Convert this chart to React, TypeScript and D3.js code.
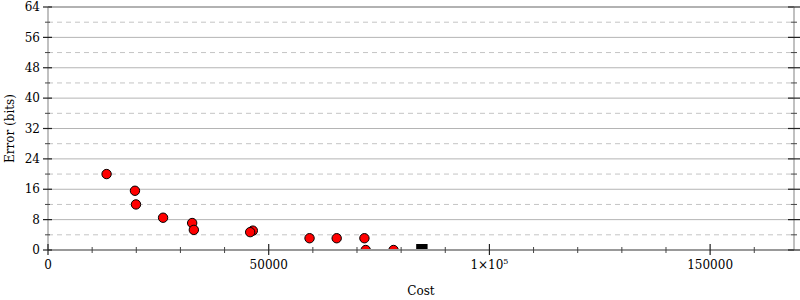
import React from "react";
import * as d3 from "d3";

const costs = [13270, 19700, 19930, 26070, 32660, 33040, 46400, 45800, 59250, 65400, 71680, 71980, 78280];
const errors = [20, 15.6, 12, 8.5, 7.1, 5.3, 5.1, 4.7, 3.1, 3.1, 3.1, 0, 0];
const baselineCost = [84700];
const baselineError = [0];
const xMajorTicks = [0, 50000, 100000, 150000];
const yMajorTicks = [0, 8, 16, 24, 32, 40, 48, 56, 64];

const W = 800, H = 300;
const L = 48, R = 794, T = 7, B = 250;
const FONT = "DejaVu Serif";

export default function App() {
  const x = d3.scaleLinear().domain([0, 169000]).range([L, R]);
  const y = d3.scaleLinear().domain([0, 64]).range([B, T]);
  const xMinor = d3.range(0, 169001, 10000).filter((v) => v % 50000 !== 0);
  const yMinor = d3.range(4, 64, 8);

  const xLabel = (v: number) => {
    if (v === 100000)
      return (
        <>
          1×10<tspan fontSize={8} dy={-5}>5</tspan>
        </>
      );
    return String(v);
  };

  return (
    <svg width={W} height={H} style={{ position: "fixed", left: 0, top: 0, background: "#fff" }} fontFamily={FONT}>
      <defs>
        <clipPath id="plot">
          <rect x={L} y={T} width={R - L} height={B - T} />
        </clipPath>
      </defs>
      {/* grid */}
      {yMajorTicks.filter((v) => v > 0 && v < 64).map((v) => (
        <line key={"g" + v} x1={L} x2={R} y1={y(v)} y2={y(v)} stroke="#b4b4b4" strokeWidth={1} />
      ))}
      {yMinor.map((v) => (
        <line key={"gm" + v} x1={L} x2={R} y1={y(v)} y2={y(v)} stroke="#c4c4c4" strokeWidth={1} strokeDasharray="5,4" />
      ))}
      {/* data */}
      <g clipPath="url(#plot)">
        {costs.map((c, i) => (
          <circle key={i} cx={x(c)} cy={y(errors[i])} r={4.7} fill="#ff0000" stroke="#000" strokeWidth={1} />
        ))}
        {baselineCost.map((c, i) => (
          <rect key={"b" + i} x={x(c) - 5.7} y={y(baselineError[i]) - 6} width={11.4} height={12} fill="#000" />
        ))}
      </g>
      {/* frame */}
      <line x1={L} x2={R} y1={T} y2={T} stroke="#999" strokeWidth={1.5} />
      <line x1={L} x2={L} y1={T} y2={B} stroke="#c0c0c0" strokeWidth={2} />
      <line x1={R} x2={R} y1={T} y2={B} stroke="#c0c0c0" strokeWidth={2} />
      <line x1={L} x2={R} y1={B} y2={B} stroke="#999" strokeWidth={2} />
      {/* y ticks */}
      {yMajorTicks.map((v) => (
        <g key={"yt" + v}>
          <line x1={L - 5} x2={L + 4} y1={y(v)} y2={y(v)} stroke="#222" strokeWidth={1.2} />
          <line x1={R - 6} x2={R + 6} y1={y(v)} y2={y(v)} stroke="#222" strokeWidth={1.2} />
          <text x={L - 8} y={y(v)} dy="0.35em" textAnchor="end" fontSize={12} fill="#000">{v}</text>
        </g>
      ))}
      {yMinor.map((v) => (
        <g key={"ym" + v}>
          <line x1={L - 3} x2={L + 2} y1={y(v)} y2={y(v)} stroke="#444" strokeWidth={1} />
          <line x1={R - 3} x2={R + 3} y1={y(v)} y2={y(v)} stroke="#444" strokeWidth={1} />
        </g>
      ))}
      {/* x ticks */}
      {xMajorTicks.map((v) => (
        <g key={"xt" + v}>
          <line x1={x(v)} x2={x(v)} y1={B - 6} y2={B + 5} stroke="#222" strokeWidth={1.2} />
          <text x={x(v)} y={B + 19} textAnchor="middle" fontSize={12} fill="#000">{xLabel(v)}</text>
        </g>
      ))}
      {xMinor.map((v) => (
        <line key={"xm" + v} x1={x(v)} x2={x(v)} y1={B - 3} y2={B + 3} stroke="#444" strokeWidth={1} />
      ))}
      {/* axis labels */}
      <text x={(L + R) / 2} y={295} textAnchor="middle" fontSize={12} fill="#000">Cost</text>
      <text transform={`translate(14, ${(T + B) / 2}) rotate(-90)`} textAnchor="middle" fontSize={12} fill="#000">Error (bits)</text>
    </svg>
  );
}
